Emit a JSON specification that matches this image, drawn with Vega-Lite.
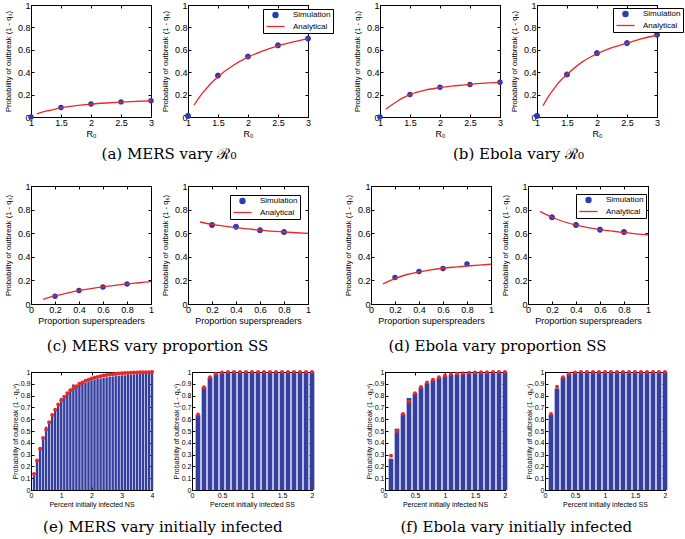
{
"$schema":"https://vega.github.io/schema/vega-lite/v6.json",
"padding":{"left":3,"top":0,"right":0,"bottom":0},
"background":"white",
"datasets":{
"aL_sim":[{"x":1,"y":0},{"x":1.5,"y":0.085},{"x":2,"y":0.117},{"x":2.5,"y":0.135},{"x":3,"y":0.145}],
"aL_line":[{"x":1.1,"y":0.027},{"x":1.2,"y":0.045},{"x":1.3,"y":0.058},{"x":1.4,"y":0.071},{"x":1.5,"y":0.082},{"x":1.75,"y":0.101},{"x":2,"y":0.115},{"x":2.25,"y":0.125},{"x":2.5,"y":0.133},{"x":2.75,"y":0.139},{"x":3,"y":0.145}],
"aR_sim":[{"x":1,"y":0.01,"s":"Simulation"},{"x":1.5,"y":0.37,"s":"Simulation"},{"x":2,"y":0.54,"s":"Simulation"},{"x":2.5,"y":0.64,"s":"Simulation"},{"x":3,"y":0.7,"s":"Simulation"}],
"aR_line":[{"x":1.1,"y":0.105,"s":"Analytical"},{"x":1.2,"y":0.185,"s":"Analytical"},{"x":1.3,"y":0.25,"s":"Analytical"},{"x":1.4,"y":0.31,"s":"Analytical"},{"x":1.5,"y":0.36,"s":"Analytical"},{"x":1.75,"y":0.46,"s":"Analytical"},{"x":2,"y":0.535,"s":"Analytical"},{"x":2.25,"y":0.59,"s":"Analytical"},{"x":2.5,"y":0.635,"s":"Analytical"},{"x":2.75,"y":0.67,"s":"Analytical"},{"x":3,"y":0.7,"s":"Analytical"}],
"bL_sim":[{"x":1,"y":0},{"x":1.5,"y":0.2},{"x":2,"y":0.265},{"x":2.5,"y":0.29},{"x":3,"y":0.31}],
"bL_line":[{"x":1.1,"y":0.07},{"x":1.2,"y":0.11},{"x":1.3,"y":0.145},{"x":1.4,"y":0.175},{"x":1.5,"y":0.2},{"x":1.75,"y":0.24},{"x":2,"y":0.263},{"x":2.25,"y":0.279},{"x":2.5,"y":0.292},{"x":2.75,"y":0.302},{"x":3,"y":0.31}],
"bR_sim":[{"x":1,"y":0.01,"s":"Simulation"},{"x":1.5,"y":0.38,"s":"Simulation"},{"x":2,"y":0.57,"s":"Simulation"},{"x":2.5,"y":0.66,"s":"Simulation"},{"x":3,"y":0.735,"s":"Simulation"}],
"bR_line":[{"x":1.1,"y":0.1,"s":"Analytical"},{"x":1.2,"y":0.19,"s":"Analytical"},{"x":1.3,"y":0.265,"s":"Analytical"},{"x":1.4,"y":0.33,"s":"Analytical"},{"x":1.5,"y":0.38,"s":"Analytical"},{"x":1.75,"y":0.49,"s":"Analytical"},{"x":2,"y":0.565,"s":"Analytical"},{"x":2.25,"y":0.62,"s":"Analytical"},{"x":2.5,"y":0.66,"s":"Analytical"},{"x":2.75,"y":0.7,"s":"Analytical"},{"x":3,"y":0.73,"s":"Analytical"}],
"cL_sim":[{"x":0.2,"y":0.065},{"x":0.4,"y":0.115},{"x":0.6,"y":0.145},{"x":0.8,"y":0.17}],
"cL_line":[{"x":0.1,"y":0.04},{"x":0.2,"y":0.068},{"x":0.3,"y":0.093},{"x":0.4,"y":0.113},{"x":0.5,"y":0.13},{"x":0.6,"y":0.145},{"x":0.7,"y":0.158},{"x":0.8,"y":0.17},{"x":0.9,"y":0.18},{"x":1,"y":0.19}],
"cR_sim":[{"x":0.2,"y":0.67,"s":"Simulation"},{"x":0.4,"y":0.655,"s":"Simulation"},{"x":0.6,"y":0.625,"s":"Simulation"},{"x":0.8,"y":0.61,"s":"Simulation"}],
"cR_line":[{"x":0.1,"y":0.695,"s":"Analytical"},{"x":0.2,"y":0.675,"s":"Analytical"},{"x":0.3,"y":0.66,"s":"Analytical"},{"x":0.4,"y":0.647,"s":"Analytical"},{"x":0.5,"y":0.636,"s":"Analytical"},{"x":0.6,"y":0.626,"s":"Analytical"},{"x":0.7,"y":0.617,"s":"Analytical"},{"x":0.8,"y":0.61,"s":"Analytical"},{"x":0.9,"y":0.604,"s":"Analytical"},{"x":1,"y":0.598,"s":"Analytical"}],
"dL_sim":[{"x":0.2,"y":0.225},{"x":0.4,"y":0.275},{"x":0.6,"y":0.3},{"x":0.8,"y":0.34}],
"dL_line":[{"x":0.1,"y":0.17},{"x":0.2,"y":0.215},{"x":0.3,"y":0.25},{"x":0.4,"y":0.272},{"x":0.5,"y":0.29},{"x":0.6,"y":0.303},{"x":0.7,"y":0.313},{"x":0.8,"y":0.322},{"x":0.9,"y":0.33},{"x":1,"y":0.337}],
"dR_sim":[{"x":0.2,"y":0.735,"s":"Simulation"},{"x":0.4,"y":0.67,"s":"Simulation"},{"x":0.6,"y":0.63,"s":"Simulation"},{"x":0.8,"y":0.61,"s":"Simulation"}],
"dR_line":[{"x":0.1,"y":0.785,"s":"Analytical"},{"x":0.2,"y":0.735,"s":"Analytical"},{"x":0.3,"y":0.697,"s":"Analytical"},{"x":0.4,"y":0.668,"s":"Analytical"},{"x":0.5,"y":0.647,"s":"Analytical"},{"x":0.6,"y":0.63,"s":"Analytical"},{"x":0.7,"y":0.617,"s":"Analytical"},{"x":0.8,"y":0.606,"s":"Analytical"},{"x":0.9,"y":0.595,"s":"Analytical"},{"x":1,"y":0.585,"s":"Analytical"}],
"eL":[{"x":0.1,"sim":0.12,"ana":0.135},{"x":0.2,"sim":0.245,"ana":0.25},{"x":0.3,"sim":0.36,"ana":0.35},{"x":0.4,"sim":0.44,"ana":0.44},{"x":0.5,"sim":0.535,"ana":0.51},{"x":0.6,"sim":0.58,"ana":0.575},{"x":0.7,"sim":0.635,"ana":0.635},{"x":0.8,"sim":0.68,"ana":0.68},{"x":0.9,"sim":0.72,"ana":0.725},{"x":1,"sim":0.78,"ana":0.76},{"x":1.1,"sim":0.79,"ana":0.79},{"x":1.2,"sim":0.82,"ana":0.82},{"x":1.3,"sim":0.85,"ana":0.845},{"x":1.4,"sim":0.895,"ana":0.865},{"x":1.5,"sim":0.885,"ana":0.88},{"x":1.6,"sim":0.895,"ana":0.9},{"x":1.7,"sim":0.9,"ana":0.91},{"x":1.8,"sim":0.91,"ana":0.925},{"x":1.9,"sim":0.92,"ana":0.935},{"x":2,"sim":0.93,"ana":0.945},{"x":2.1,"sim":0.935,"ana":0.952},{"x":2.2,"sim":0.94,"ana":0.958},{"x":2.3,"sim":0.945,"ana":0.964},{"x":2.4,"sim":0.95,"ana":0.97},{"x":2.5,"sim":0.955,"ana":0.974},{"x":2.6,"sim":0.96,"ana":0.978},{"x":2.7,"sim":0.962,"ana":0.981},{"x":2.8,"sim":0.965,"ana":0.984},{"x":2.9,"sim":0.968,"ana":0.987},{"x":3,"sim":0.97,"ana":0.989},{"x":3.1,"sim":0.972,"ana":0.991},{"x":3.2,"sim":0.975,"ana":0.992},{"x":3.3,"sim":0.977,"ana":0.993},{"x":3.4,"sim":0.98,"ana":0.995},{"x":3.5,"sim":0.982,"ana":0.996},{"x":3.6,"sim":0.985,"ana":0.997},{"x":3.7,"sim":0.987,"ana":0.997},{"x":3.8,"sim":0.99,"ana":0.998},{"x":3.9,"sim":0.992,"ana":0.998},{"x":4,"sim":0.995,"ana":0.999}],
"eR":[{"x":0.1,"sim":0.635,"ana":0.64},{"x":0.2,"sim":0.87,"ana":0.87},{"x":0.3,"sim":0.955,"ana":0.955},{"x":0.4,"sim":0.985,"ana":0.985},{"x":0.5,"sim":0.995,"ana":0.995},{"x":0.6,"sim":1,"ana":1},{"x":0.7,"sim":1,"ana":1},{"x":0.8,"sim":1,"ana":1},{"x":0.9,"sim":1,"ana":1},{"x":1,"sim":1,"ana":1},{"x":1.1,"sim":1,"ana":1},{"x":1.2,"sim":1,"ana":1},{"x":1.3,"sim":1,"ana":1},{"x":1.4,"sim":1,"ana":1},{"x":1.5,"sim":1,"ana":1},{"x":1.6,"sim":1,"ana":1},{"x":1.7,"sim":1,"ana":1},{"x":1.8,"sim":1,"ana":1},{"x":1.9,"sim":1,"ana":1},{"x":2,"sim":1,"ana":1}],
"fL":[{"x":0.1,"sim":0.265,"ana":0.29},{"x":0.2,"sim":0.52,"ana":0.5},{"x":0.3,"sim":0.645,"ana":0.645},{"x":0.4,"sim":0.78,"ana":0.75},{"x":0.5,"sim":0.82,"ana":0.82},{"x":0.6,"sim":0.87,"ana":0.872},{"x":0.7,"sim":0.905,"ana":0.91},{"x":0.8,"sim":0.935,"ana":0.935},{"x":0.9,"sim":0.95,"ana":0.955},{"x":1,"sim":0.965,"ana":0.97},{"x":1.1,"sim":0.975,"ana":0.98},{"x":1.2,"sim":0.98,"ana":0.985},{"x":1.3,"sim":0.99,"ana":0.99},{"x":1.4,"sim":0.99,"ana":0.993},{"x":1.5,"sim":0.995,"ana":0.995},{"x":1.6,"sim":0.995,"ana":0.997},{"x":1.7,"sim":0.998,"ana":0.998},{"x":1.8,"sim":1,"ana":0.999},{"x":1.9,"sim":1,"ana":1},{"x":2,"sim":1,"ana":1}],
"fR":[{"x":0.1,"sim":0.64,"ana":0.645},{"x":0.2,"sim":0.86,"ana":0.875},{"x":0.3,"sim":0.955,"ana":0.955},{"x":0.4,"sim":0.985,"ana":0.985},{"x":0.5,"sim":0.995,"ana":0.995},{"x":0.6,"sim":1,"ana":1},{"x":0.7,"sim":1,"ana":1},{"x":0.8,"sim":1,"ana":1},{"x":0.9,"sim":1,"ana":1},{"x":1,"sim":1,"ana":1},{"x":1.1,"sim":1,"ana":1},{"x":1.2,"sim":1,"ana":1},{"x":1.3,"sim":1,"ana":1},{"x":1.4,"sim":1,"ana":1},{"x":1.5,"sim":1,"ana":1},{"x":1.6,"sim":1,"ana":1},{"x":1.7,"sim":1,"ana":1},{"x":1.8,"sim":1,"ana":1},{"x":1.9,"sim":1,"ana":1},{"x":2,"sim":1,"ana":1}]
},
"spacing":19,
"resolve":{"scale":{"x":"independent","y":"independent","color":"independent","stroke":"independent","shape":"independent","size":"independent"},"legend":{"color":"independent","stroke":"independent","shape":"independent","size":"independent"}},
"vconcat":[
{"hconcat":[
 {"hconcat":[
  {"width":120,"height":112,"view":{"stroke":"black","strokeWidth":1},"resolve":{"axis":{"x":"independent","y":"independent"}},"layer":[
   {"data":{"name":"aL_sim"},"mark":{"type":"circle","size":30,"color":"#2b3bb0","opacity":1},"encoding":{"x":{"field":"x","type":"quantitative","scale":{"domain":[1,3]},"axis":{"values":[1,1.5,2,2.5,3],"tickCount":5,"format":"~g","title":"R₀","domain":true}},"y":{"field":"y","type":"quantitative","scale":{"domain":[0,1]},"axis":{"values":[0,0.2,0.4,0.6,0.8,1],"tickCount":6,"format":"~g","title":"Probability of outbreak (1 - q₃)","domain":true}}}},
   {"data":{"name":"aL_line"},"mark":{"type":"line","color":"#e8282b","strokeWidth":1.3,"interpolate":"monotone"},"encoding":{"x":{"field":"x","type":"quantitative","axis":{"orient":"top","labels":false,"title":null,"values":[1,1.5,2,2.5,3],"tickCount":5,"domain":true}},"y":{"field":"y","type":"quantitative","axis":{"orient":"right","labels":false,"title":null,"values":[0,0.2,0.4,0.6,0.8,1],"tickCount":6,"domain":true}}}}
  ]},
  {"width":120,"height":112,"view":{"stroke":"black","strokeWidth":1},"resolve":{"axis":{"x":"independent","y":"independent"}},"layer":[
   {"data":{"name":"aR_sim"},"mark":{"type":"point","filled":true,"opacity":1,"strokeWidth":1},"encoding":{"x":{"field":"x","type":"quantitative","scale":{"domain":[1,3]},"axis":{"values":[1,1.5,2,2.5,3],"tickCount":5,"format":"~g","title":"R₀","domain":true}},"y":{"field":"y","type":"quantitative","scale":{"domain":[0,1]},"axis":{"values":[0,0.2,0.4,0.6,0.8,1],"tickCount":6,"format":"~g","title":"Probability of outbreak (1 - q₆)","domain":true}},
    "color":{"field":"s","type":"nominal","scale":{"domain":["Simulation","Analytical"],"range":["#2b3bb0","#e8282b"]},"legend":{"title":null,"orient":"none","legendX":75,"legendY":4}},
    "stroke":{"field":"s","type":"nominal","scale":{"domain":["Simulation","Analytical"],"range":["#2b3bb0","#e8282b"]},"legend":{"title":null,"orient":"none","legendX":75,"legendY":4}},
    "shape":{"field":"s","type":"nominal","scale":{"domain":["Simulation","Analytical"],"range":["circle","M-2.6,0H2.6"]},"legend":{"title":null,"orient":"none","legendX":75,"legendY":4}},
    "size":{"field":"s","type":"nominal","scale":{"domain":["Simulation","Analytical"],"range":[26,49]},"legend":{"title":null,"orient":"none","legendX":75,"legendY":4}}}},
   {"data":{"name":"aR_line"},"mark":{"type":"line","strokeWidth":1.3,"interpolate":"monotone"},"encoding":{"x":{"field":"x","type":"quantitative","axis":{"orient":"top","labels":false,"title":null,"values":[1,1.5,2,2.5,3],"tickCount":5,"domain":true}},"y":{"field":"y","type":"quantitative","axis":{"orient":"right","labels":false,"title":null,"values":[0,0.2,0.4,0.6,0.8,1],"tickCount":6,"domain":true}},"color":{"field":"s","type":"nominal","scale":{"domain":["Simulation","Analytical"],"range":["#2b3bb0","#e8282b"]},"legend":{"title":null,"orient":"none","legendX":75,"legendY":4}}}}
  ]}
 ],"spacing":5,"resolve":{"scale":{"x":"independent","y":"independent","color":"independent","stroke":"independent","shape":"independent","size":"independent"},"legend":{"color":"independent","stroke":"independent","shape":"independent","size":"independent"}},
 "title":{"text":"(a) MERS vary ℛ₀","orient":"bottom","offset":8}},
 {"hconcat":[
  {"width":120,"height":112,"view":{"stroke":"black","strokeWidth":1},"resolve":{"axis":{"x":"independent","y":"independent"}},"layer":[
   {"data":{"name":"bL_sim"},"mark":{"type":"circle","size":30,"color":"#2b3bb0","opacity":1},"encoding":{"x":{"field":"x","type":"quantitative","scale":{"domain":[1,3]},"axis":{"values":[1,1.5,2,2.5,3],"tickCount":5,"format":"~g","title":"R₀","domain":true}},"y":{"field":"y","type":"quantitative","scale":{"domain":[0,1]},"axis":{"values":[0,0.2,0.4,0.6,0.8,1],"tickCount":6,"format":"~g","title":"Probability of outbreak (1 - q₃)","domain":true}}}},
   {"data":{"name":"bL_line"},"mark":{"type":"line","color":"#e8282b","strokeWidth":1.3,"interpolate":"monotone"},"encoding":{"x":{"field":"x","type":"quantitative","axis":{"orient":"top","labels":false,"title":null,"values":[1,1.5,2,2.5,3],"tickCount":5,"domain":true}},"y":{"field":"y","type":"quantitative","axis":{"orient":"right","labels":false,"title":null,"values":[0,0.2,0.4,0.6,0.8,1],"tickCount":6,"domain":true}}}}
  ]},
  {"width":120,"height":112,"view":{"stroke":"black","strokeWidth":1},"resolve":{"axis":{"x":"independent","y":"independent"}},"layer":[
   {"data":{"name":"bR_sim"},"mark":{"type":"point","filled":true,"opacity":1,"strokeWidth":1},"encoding":{"x":{"field":"x","type":"quantitative","scale":{"domain":[1,3]},"axis":{"values":[1,1.5,2,2.5,3],"tickCount":5,"format":"~g","title":"R₀","domain":true}},"y":{"field":"y","type":"quantitative","scale":{"domain":[0,1]},"axis":{"values":[0,0.2,0.4,0.6,0.8,1],"tickCount":6,"format":"~g","title":"Probability of outbreak (1 - q₆)","domain":true}},
    "color":{"field":"s","type":"nominal","scale":{"domain":["Simulation","Analytical"],"range":["#2b3bb0","#e8282b"]},"legend":{"title":null,"orient":"none","legendX":76,"legendY":3}},
    "stroke":{"field":"s","type":"nominal","scale":{"domain":["Simulation","Analytical"],"range":["#2b3bb0","#e8282b"]},"legend":{"title":null,"orient":"none","legendX":76,"legendY":3}},
    "shape":{"field":"s","type":"nominal","scale":{"domain":["Simulation","Analytical"],"range":["circle","M-2.6,0H2.6"]},"legend":{"title":null,"orient":"none","legendX":76,"legendY":3}},
    "size":{"field":"s","type":"nominal","scale":{"domain":["Simulation","Analytical"],"range":[26,49]},"legend":{"title":null,"orient":"none","legendX":76,"legendY":3}}}},
   {"data":{"name":"bR_line"},"mark":{"type":"line","strokeWidth":1.3,"interpolate":"monotone"},"encoding":{"x":{"field":"x","type":"quantitative","axis":{"orient":"top","labels":false,"title":null,"values":[1,1.5,2,2.5,3],"tickCount":5,"domain":true}},"y":{"field":"y","type":"quantitative","axis":{"orient":"right","labels":false,"title":null,"values":[0,0.2,0.4,0.6,0.8,1],"tickCount":6,"domain":true}},"color":{"field":"s","type":"nominal","scale":{"domain":["Simulation","Analytical"],"range":["#2b3bb0","#e8282b"]},"legend":{"title":null,"orient":"none","legendX":76,"legendY":3}}}}
  ]}
 ],"spacing":5,"resolve":{"scale":{"x":"independent","y":"independent","color":"independent","stroke":"independent","shape":"independent","size":"independent"},"legend":{"color":"independent","stroke":"independent","shape":"independent","size":"independent"}},
 "title":{"text":"(b) Ebola vary ℛ₀","orient":"bottom","offset":8}}
],"spacing":18,"resolve":{"scale":{"x":"independent","y":"independent","color":"independent","stroke":"independent","shape":"independent","size":"independent"},"legend":{"color":"independent","stroke":"independent","shape":"independent","size":"independent"}}},
{"vconcat":[
{"hconcat":[
 {"hconcat":[
  {"width":120,"height":118,"view":{"stroke":"black","strokeWidth":1},"resolve":{"axis":{"x":"independent","y":"independent"}},"layer":[
   {"data":{"name":"cL_sim"},"mark":{"type":"circle","size":30,"color":"#2b3bb0","opacity":1},"encoding":{"x":{"field":"x","type":"quantitative","scale":{"domain":[0,1]},"axis":{"values":[0,0.2,0.4,0.6,0.8,1],"tickCount":6,"format":"~g","title":"Proportion superspreaders","domain":true}},"y":{"field":"y","type":"quantitative","scale":{"domain":[0,1]},"axis":{"values":[0,0.2,0.4,0.6,0.8,1],"tickCount":6,"format":"~g","title":"Probability of outbreak (1 - q₃)","domain":true}}}},
   {"data":{"name":"cL_line"},"mark":{"type":"line","color":"#e8282b","strokeWidth":1.3,"interpolate":"monotone"},"encoding":{"x":{"field":"x","type":"quantitative","axis":{"orient":"top","labels":false,"title":null,"values":[0,0.2,0.4,0.6,0.8,1],"tickCount":6,"domain":true}},"y":{"field":"y","type":"quantitative","axis":{"orient":"right","labels":false,"title":null,"values":[0,0.2,0.4,0.6,0.8,1],"tickCount":6,"domain":true}}}}
  ]},
  {"width":120,"height":118,"view":{"stroke":"black","strokeWidth":1},"resolve":{"axis":{"x":"independent","y":"independent"}},"layer":[
   {"data":{"name":"cR_sim"},"mark":{"type":"point","filled":true,"opacity":1,"strokeWidth":1},"encoding":{"x":{"field":"x","type":"quantitative","scale":{"domain":[0,1]},"axis":{"values":[0,0.2,0.4,0.6,0.8,1],"tickCount":6,"format":"~g","title":"Proportion superspreaders","domain":true}},"y":{"field":"y","type":"quantitative","scale":{"domain":[0,1]},"axis":{"values":[0,0.2,0.4,0.6,0.8,1],"tickCount":6,"format":"~g","title":"Probability of outbreak (1 - q₆)","domain":true}},
    "color":{"field":"s","type":"nominal","scale":{"domain":["Simulation","Analytical"],"range":["#2b3bb0","#e8282b"]},"legend":{"title":null,"orient":"none","legendX":42,"legendY":9}},
    "stroke":{"field":"s","type":"nominal","scale":{"domain":["Simulation","Analytical"],"range":["#2b3bb0","#e8282b"]},"legend":{"title":null,"orient":"none","legendX":42,"legendY":9}},
    "shape":{"field":"s","type":"nominal","scale":{"domain":["Simulation","Analytical"],"range":["circle","M-2.6,0H2.6"]},"legend":{"title":null,"orient":"none","legendX":42,"legendY":9}},
    "size":{"field":"s","type":"nominal","scale":{"domain":["Simulation","Analytical"],"range":[26,49]},"legend":{"title":null,"orient":"none","legendX":42,"legendY":9}}}},
   {"data":{"name":"cR_line"},"mark":{"type":"line","strokeWidth":1.3,"interpolate":"monotone"},"encoding":{"x":{"field":"x","type":"quantitative","axis":{"orient":"top","labels":false,"title":null,"values":[0,0.2,0.4,0.6,0.8,1],"tickCount":6,"domain":true}},"y":{"field":"y","type":"quantitative","axis":{"orient":"right","labels":false,"title":null,"values":[0,0.2,0.4,0.6,0.8,1],"tickCount":6,"domain":true}},"color":{"field":"s","type":"nominal","scale":{"domain":["Simulation","Analytical"],"range":["#2b3bb0","#e8282b"]},"legend":{"title":null,"orient":"none","legendX":42,"legendY":9}}}}
  ]}
 ],"spacing":5,"resolve":{"scale":{"x":"independent","y":"independent","color":"independent","stroke":"independent","shape":"independent","size":"independent"},"legend":{"color":"independent","stroke":"independent","shape":"independent","size":"independent"}},
 "title":{"text":"(c) MERS vary proportion SS","orient":"bottom","offset":13}},
 {"hconcat":[
  {"width":120,"height":118,"view":{"stroke":"black","strokeWidth":1},"resolve":{"axis":{"x":"independent","y":"independent"}},"layer":[
   {"data":{"name":"dL_sim"},"mark":{"type":"circle","size":30,"color":"#2b3bb0","opacity":1},"encoding":{"x":{"field":"x","type":"quantitative","scale":{"domain":[0,1]},"axis":{"values":[0,0.2,0.4,0.6,0.8,1],"tickCount":6,"format":"~g","title":"Proportion superspreaders","domain":true}},"y":{"field":"y","type":"quantitative","scale":{"domain":[0,1]},"axis":{"values":[0,0.2,0.4,0.6,0.8,1],"tickCount":6,"format":"~g","title":"Probability of outbreak (1 - q₃)","domain":true}}}},
   {"data":{"name":"dL_line"},"mark":{"type":"line","color":"#e8282b","strokeWidth":1.3,"interpolate":"monotone"},"encoding":{"x":{"field":"x","type":"quantitative","axis":{"orient":"top","labels":false,"title":null,"values":[0,0.2,0.4,0.6,0.8,1],"tickCount":6,"domain":true}},"y":{"field":"y","type":"quantitative","axis":{"orient":"right","labels":false,"title":null,"values":[0,0.2,0.4,0.6,0.8,1],"tickCount":6,"domain":true}}}}
  ]},
  {"width":120,"height":118,"view":{"stroke":"black","strokeWidth":1},"resolve":{"axis":{"x":"independent","y":"independent"}},"layer":[
   {"data":{"name":"dR_sim"},"mark":{"type":"point","filled":true,"opacity":1,"strokeWidth":1},"encoding":{"x":{"field":"x","type":"quantitative","scale":{"domain":[0,1]},"axis":{"values":[0,0.2,0.4,0.6,0.8,1],"tickCount":6,"format":"~g","title":"Proportion superspreaders","domain":true}},"y":{"field":"y","type":"quantitative","scale":{"domain":[0,1]},"axis":{"values":[0,0.2,0.4,0.6,0.8,1],"tickCount":6,"format":"~g","title":"Probability of outbreak (1 - q₆)","domain":true}},
    "color":{"field":"s","type":"nominal","scale":{"domain":["Simulation","Analytical"],"range":["#2b3bb0","#e8282b"]},"legend":{"title":null,"orient":"none","legendX":48,"legendY":8}},
    "stroke":{"field":"s","type":"nominal","scale":{"domain":["Simulation","Analytical"],"range":["#2b3bb0","#e8282b"]},"legend":{"title":null,"orient":"none","legendX":48,"legendY":8}},
    "shape":{"field":"s","type":"nominal","scale":{"domain":["Simulation","Analytical"],"range":["circle","M-2.6,0H2.6"]},"legend":{"title":null,"orient":"none","legendX":48,"legendY":8}},
    "size":{"field":"s","type":"nominal","scale":{"domain":["Simulation","Analytical"],"range":[26,49]},"legend":{"title":null,"orient":"none","legendX":48,"legendY":8}}}},
   {"data":{"name":"dR_line"},"mark":{"type":"line","strokeWidth":1.3,"interpolate":"monotone"},"encoding":{"x":{"field":"x","type":"quantitative","axis":{"orient":"top","labels":false,"title":null,"values":[0,0.2,0.4,0.6,0.8,1],"tickCount":6,"domain":true}},"y":{"field":"y","type":"quantitative","axis":{"orient":"right","labels":false,"title":null,"values":[0,0.2,0.4,0.6,0.8,1],"tickCount":6,"domain":true}},"color":{"field":"s","type":"nominal","scale":{"domain":["Simulation","Analytical"],"range":["#2b3bb0","#e8282b"]},"legend":{"title":null,"orient":"none","legendX":48,"legendY":8}}}}
  ]}
 ],"spacing":5,"resolve":{"scale":{"x":"independent","y":"independent","color":"independent","stroke":"independent","shape":"independent","size":"independent"},"legend":{"color":"independent","stroke":"independent","shape":"independent","size":"independent"}},
 "title":{"text":"(d) Ebola vary proportion SS","orient":"bottom","offset":13}}
],"spacing":31,"resolve":{"scale":{"x":"independent","y":"independent","color":"independent","stroke":"independent","shape":"independent","size":"independent"},"legend":{"color":"independent","stroke":"independent","shape":"independent","size":"independent"}}},
{"hconcat":[
 {"hconcat":[
  {"width":121,"height":118,"view":{"stroke":"black","strokeWidth":1},"resolve":{"axis":{"x":"independent","y":"independent"}},"layer":[
   {"data":{"name":"eL"},"mark":{"type":"bar","size":2.4,"color":"#353fa0"},"encoding":{"x":{"field":"x","type":"quantitative","scale":{"domain":[0,4],"padding":0},"axis":{"values":[0,1,2,3,4],"tickCount":5,"format":"~g","title":"Percent initially infected NS","labelFontSize":7,"titleFontSize":7,"domain":true}},"y":{"field":"sim","type":"quantitative","scale":{"domain":[0,1]},"axis":{"values":[0,0.1,0.2,0.3,0.4,0.5,0.6,0.7,0.8,0.9,1],"tickCount":11,"format":"~g","title":"Probability of outbreak (1 - q₃ⁿ)","labelFontSize":7,"titleFontSize":7,"titlePadding":2,"domain":true}}}},
   {"data":{"name":"eL"},"mark":{"type":"circle","size":16,"color":"#e8282b","opacity":1},"encoding":{"x":{"field":"x","type":"quantitative","axis":{"orient":"top","labels":false,"title":null,"values":[0,1,2,3,4],"tickCount":5,"domain":true}},"y":{"field":"ana","type":"quantitative","axis":{"orient":"right","labels":false,"title":null,"values":[0,0.1,0.2,0.3,0.4,0.5,0.6,0.7,0.8,0.9,1],"tickCount":11,"domain":true}}}}
  ]},
  {"width":120,"height":118,"view":{"stroke":"black","strokeWidth":1},"resolve":{"axis":{"x":"independent","y":"independent"}},"layer":[
   {"data":{"name":"eR"},"mark":{"type":"bar","size":4.7,"color":"#353fa0"},"encoding":{"x":{"field":"x","type":"quantitative","scale":{"domain":[0,2],"padding":0},"axis":{"values":[0,0.5,1,1.5,2],"tickCount":5,"format":"~g","title":"Percent initially infected SS","labelFontSize":7,"titleFontSize":7,"domain":true}},"y":{"field":"sim","type":"quantitative","scale":{"domain":[0,1]},"axis":{"values":[0,0.1,0.2,0.3,0.4,0.5,0.6,0.7,0.8,0.9,1],"tickCount":11,"format":"~g","title":"Probability of outbreak (1 - q₆ˢ)","labelFontSize":7,"titleFontSize":7,"titlePadding":2,"domain":true}}}},
   {"data":{"name":"eR"},"mark":{"type":"circle","size":16,"color":"#e8282b","opacity":1},"encoding":{"x":{"field":"x","type":"quantitative","axis":{"orient":"top","labels":false,"title":null,"values":[0,0.5,1,1.5,2],"tickCount":5,"domain":true}},"y":{"field":"ana","type":"quantitative","axis":{"orient":"right","labels":false,"title":null,"values":[0,0.1,0.2,0.3,0.4,0.5,0.6,0.7,0.8,0.9,1],"tickCount":11,"domain":true}}}}
  ]}
 ],"spacing":16,"resolve":{"scale":{"x":"independent","y":"independent"}},
 "title":{"text":"(e) MERS vary initially infected","orient":"bottom","offset":12}},
 {"hconcat":[
  {"width":120,"height":118,"view":{"stroke":"black","strokeWidth":1},"resolve":{"axis":{"x":"independent","y":"independent"}},"layer":[
   {"data":{"name":"fL"},"mark":{"type":"bar","size":4.7,"color":"#353fa0"},"encoding":{"x":{"field":"x","type":"quantitative","scale":{"domain":[0,2],"padding":0},"axis":{"values":[0,0.5,1,1.5,2],"tickCount":5,"format":"~g","title":"Percent initially infected NS","labelFontSize":7,"titleFontSize":7,"domain":true}},"y":{"field":"sim","type":"quantitative","scale":{"domain":[0,1]},"axis":{"values":[0,0.1,0.2,0.3,0.4,0.5,0.6,0.7,0.8,0.9,1],"tickCount":11,"format":"~g","title":"Probability of outbreak (1 - q₃ⁿ)","labelFontSize":7,"titleFontSize":7,"titlePadding":2,"domain":true}}}},
   {"data":{"name":"fL"},"mark":{"type":"circle","size":16,"color":"#e8282b","opacity":1},"encoding":{"x":{"field":"x","type":"quantitative","axis":{"orient":"top","labels":false,"title":null,"values":[0,0.5,1,1.5,2],"tickCount":5,"domain":true}},"y":{"field":"ana","type":"quantitative","axis":{"orient":"right","labels":false,"title":null,"values":[0,0.1,0.2,0.3,0.4,0.5,0.6,0.7,0.8,0.9,1],"tickCount":11,"domain":true}}}}
  ]},
  {"width":120,"height":118,"view":{"stroke":"black","strokeWidth":1},"resolve":{"axis":{"x":"independent","y":"independent"}},"layer":[
   {"data":{"name":"fR"},"mark":{"type":"bar","size":4.7,"color":"#353fa0"},"encoding":{"x":{"field":"x","type":"quantitative","scale":{"domain":[0,2],"padding":0},"axis":{"values":[0,0.5,1,1.5,2],"tickCount":5,"format":"~g","title":"Percent initially infected SS","labelFontSize":7,"titleFontSize":7,"domain":true}},"y":{"field":"sim","type":"quantitative","scale":{"domain":[0,1]},"axis":{"values":[0,0.1,0.2,0.3,0.4,0.5,0.6,0.7,0.8,0.9,1],"tickCount":11,"format":"~g","title":"Probability of outbreak (1 - q₆ˢ)","labelFontSize":7,"titleFontSize":7,"titlePadding":2,"domain":true}}}},
   {"data":{"name":"fR"},"mark":{"type":"circle","size":16,"color":"#e8282b","opacity":1},"encoding":{"x":{"field":"x","type":"quantitative","axis":{"orient":"top","labels":false,"title":null,"values":[0,0.5,1,1.5,2],"tickCount":5,"domain":true}},"y":{"field":"ana","type":"quantitative","axis":{"orient":"right","labels":false,"title":null,"values":[0,0.1,0.2,0.3,0.4,0.5,0.6,0.7,0.8,0.9,1],"tickCount":11,"domain":true}}}}
  ]}
 ],"spacing":16,"resolve":{"scale":{"x":"independent","y":"independent"}},
 "title":{"text":"(f) Ebola vary initially infected","orient":"bottom","offset":12}}
],"spacing":49,"resolve":{"scale":{"x":"independent","y":"independent"}}}
],"spacing":13,"resolve":{"scale":{"x":"independent","y":"independent","color":"independent","stroke":"independent","shape":"independent","size":"independent"},"legend":{"color":"independent","stroke":"independent","shape":"independent","size":"independent"}}}
],
"config":{
 "font":"Liberation Sans",
 "view":{"stroke":"black","strokeWidth":1},
 "axis":{"domain":true,"domainColor":"black","domainWidth":1,"grid":false,"ticks":true,"tickColor":"black","tickSize":-3,"labelColor":"black","titleColor":"black","labelFont":"Liberation Sans","titleFont":"Liberation Sans","labelFontSize":9,"titleFontSize":9,"titleFontWeight":"normal","labelPadding":4,"titlePadding":2,"labelFlush":false,"labelOverlap":false},
 "axisY":{"titleFontSize":7.6,"titlePadding":5},
 "legend":{"strokeColor":"black","fillColor":"white","padding":2,"labelFont":"Liberation Sans","labelFontSize":8,"labelColor":"black","rowPadding":1,"symbolStrokeWidth":1.3,"symbolOffset":6,"labelOffset":13,"cornerRadius":0},
 "title":{"font":"DejaVu Serif","fontSize":15,"fontWeight":"normal","color":"black","anchor":"middle"},
 "line":{"strokeCap":"butt"}
}
}
